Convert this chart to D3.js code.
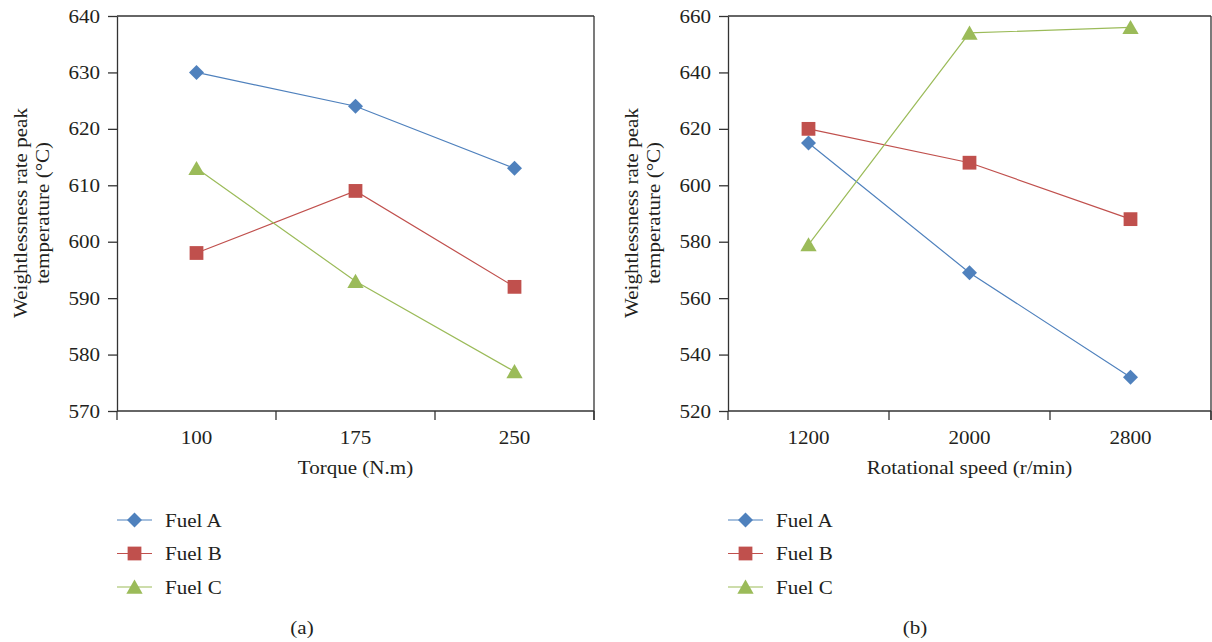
<!DOCTYPE html>
<html><head><meta charset="utf-8">
<script src="https://cdn.jsdelivr.net/npm/d3@7"></script>
<style>
body{margin:0;background:#fff;}
text{font-family:"Liberation Serif","DejaVu Serif",serif;fill:#231f20;font-size:19.5px;}
</style></head>
<body><svg id="c" width="1212" height="642"></svg>
<script>
const seriesNames = ["Fuel A","Fuel B","Fuel C"];
const torqueCats = ["100","175","250"];
const torqueA = [630,624,613];
const torqueB = [598,609,592];
const torqueC = [613,593,577];
const torqueTicks = [570,580,590,600,610,620,630,640];
const speedCats = ["1200","2000","2800"];
const speedA = [615,569,532];
const speedB = [620,608,588];
const speedC = [579,654,656];
const speedTicks = [520,540,560,580,600,620,640,660];
const colors = ["#4f81bd","#c0504d","#9bbb59"];

const svg = d3.select("#c");
const SX = 1.08;

function txt(g, x, y, str, anchor, rot){
  const t = g.append("g").attr("transform",`translate(${x},${y}) rotate(${rot||0}) scale(${SX},1)`);
  return t.append("text").attr("text-anchor",anchor||"start").text(str);
}
function marker(g, i, cx, cy){
  if(i===0){
    g.append("path").attr("d",d3.symbol().type(d3.symbolSquare).size(112)())
      .attr("transform",`translate(${cx},${cy}) rotate(45)`).attr("fill",colors[i]);
  } else if(i===1){
    g.append("path").attr("d",d3.symbol().type(d3.symbolSquare).size(190)())
      .attr("transform",`translate(${cx},${cy})`).attr("fill",colors[i]);
  } else {
    g.append("path").attr("d",d3.symbol().type(d3.symbolTriangle).size(115)())
      .attr("transform",`translate(${cx},${cy+2})`).attr("fill",colors[i]);
  }
}

function panel(opt){
  const g = svg.append("g");
  const x = d3.scaleBand().domain(opt.cats).range([opt.x0, opt.x1]).padding(0);
  const y = d3.scaleLinear().domain([opt.ticks[0], opt.ticks[opt.ticks.length-1]]).range([411,16]);
  const ax = "#333";
  g.append("line").attr("x1",opt.x0).attr("x2",opt.x1).attr("y1",16).attr("y2",16).attr("stroke",ax).attr("stroke-width",1.3);
  g.append("line").attr("x1",opt.x1).attr("x2",opt.x1).attr("y1",16).attr("y2",420).attr("stroke",ax).attr("stroke-width",1.3);
  const ya = g.append("g").attr("transform",`translate(${opt.x0},0)`)
    .call(d3.axisLeft(y).tickValues(opt.ticks).tickSize(9).tickSizeOuter(0).tickFormat(""));
  ya.select(".domain").attr("stroke",ax).attr("stroke-width",1.3);
  ya.selectAll(".tick line").attr("stroke",ax).attr("stroke-width",1.3);
  opt.ticks.forEach(v=>txt(g, opt.x0-17, y(v)+6.5, String(v), "end"));
  g.append("line").attr("x1",opt.x0).attr("x2",opt.x1).attr("y1",411).attr("y2",411).attr("stroke",ax).attr("stroke-width",1.3);
  const bounds = opt.cats.map(c=>x(c)).concat([opt.x1]);
  g.selectAll(".xt").data(bounds).enter().append("line")
    .attr("x1",d=>d).attr("x2",d=>d).attr("y1",411).attr("y2",420).attr("stroke",ax).attr("stroke-width",1.3);
  opt.cats.forEach(c=>txt(g, x(c)+x.bandwidth()/2, 444, c, "middle"));
  txt(g, (opt.x0+opt.x1)/2, 474, opt.xTitle, "middle");
  txt(g, opt.x0-90, 213, "Weightlessness rate peak", "middle", -90);
  txt(g, opt.x0-68, 213, "temperature (°C)", "middle", -90);
  opt.series.forEach((vals,i)=>{
    const line = d3.line().x((d,j)=>x(opt.cats[j])+x.bandwidth()/2).y(d=>y(d));
    g.append("path").attr("d",line(vals)).attr("fill","none").attr("stroke",colors[i]).attr("stroke-width",1.2);
    vals.forEach((v,j)=>marker(g, i, x(opt.cats[j])+x.bandwidth()/2, y(v)));
  });
  seriesNames.forEach((n,i)=>{
    const ly = 520 + i*33.5;
    g.append("line").attr("x1",opt.x0).attr("x2",opt.x0+35).attr("y1",ly).attr("y2",ly).attr("stroke",colors[i]).attr("stroke-width",1.2);
    marker(g, i, opt.x0+17.5, ly);
    txt(g, opt.x0+48, ly+6.5, n, "start");
  });
  txt(g, opt.label[0], 634, opt.label[1], "middle");
}

panel({x0:117,x1:594,cats:torqueCats,ticks:torqueTicks,series:[torqueA,torqueB,torqueC],xTitle:"Torque (N.m)",label:[302,"(a)"]});
panel({x0:728,x1:1211,cats:speedCats,ticks:speedTicks,series:[speedA,speedB,speedC],xTitle:"Rotational speed (r/min)",label:[915,"(b)"]});
</script></body></html>
